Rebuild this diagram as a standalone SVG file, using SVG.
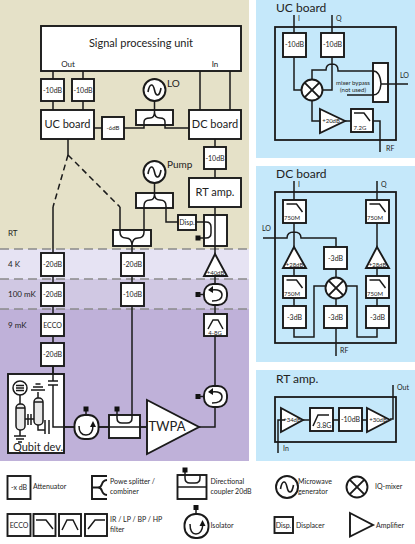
<svg xmlns="http://www.w3.org/2000/svg" width="415" height="544" viewBox="0 0 415 544">
<style>
text{font-family:Lato,"Open Sans",sans-serif;fill:#222}
.b{fill:#fff;stroke:#1a1a1a;stroke-width:1.9}
.l{fill:none;stroke:#1a1a1a;stroke-width:1.5}
.c{text-anchor:middle}
.s6{font-size:7px}.s5{font-size:6px}.s7{font-size:8px}.s9{font-size:10px}.s10{font-size:11px}
.d{fill:#111}
</style>
<defs>
<path id="sine" class="l" d="M-6.5 2C-5 -7 -1.500 -7 0 0S5 7 6.500 -2" style="stroke-width:1.6"/>
<g id="mix"><circle r="10.500" class="b"/><path class="l" style="stroke-width:1.9" d="M-7.400 -7.400L7.400 7.400M7.400 -7.400L-7.400 7.400"/></g>
<path id="lp" class="l" d="M-8 -5H2L8 3" style="stroke-width:1.5"/>
</defs>
<rect x="0" y="0" width="249" height="249" fill="#e5e1c8"/>
<rect x="0" y="249" width="249" height="30" fill="#e6e3f3"/>
<rect x="0" y="279" width="249" height="30" fill="#d0c8e3"/>
<rect x="0" y="309" width="249" height="152" fill="#bfb1d9"/>
<rect x="256" y="0" width="159" height="158" fill="#c5e8fa"/>
<rect x="256" y="166" width="159" height="196" fill="#c5e8fa"/>
<rect x="256" y="370" width="159" height="91" fill="#c5e8fa"/>
<path d="M0 249H249M0 279H249M0 309H249" stroke="#8a8a8a" stroke-width="1.300" stroke-dasharray="9 5" fill="none"/>
<g class="s7"><text x="8" y="236">RT</text><text x="8" y="267">4 K</text><text x="8" y="297">100 mK</text><text x="8" y="328">9 mK</text></g>

<g id="connectors">
<path class="l" d="M53 71V79M83 71V79M53 101V110M83 101V110M200 71V110M230 71V110M94 128H102M124 128H144V122Q144 118 150 118Q154.500 118 154.500 112V101M154.500 112Q154.500 118 160 118Q165 118 165 122V128H189M215 139V147M215 169V178"/>
<path class="l" d="M68 139V155"/>
<path class="l" stroke-dasharray="6 4" d="M68 155L53 207M68 155L120 207"/>
<path class="l" d="M53 207V374M132 246V415"/>
<path class="l" d="M120 207V232Q120 238 126 238Q132 238 132 246M132 246Q132 238 138 238Q144 238 144 232V207Q144 200 150 200Q154.500 200 154.500 194V183M154.500 194Q154.500 200 160 200Q166 200 166 206V222H178"/>
<path class="l" d="M215 207V254M215 276V395M215 405V427H199M53 427H147"/>
</g>

<g id="spu"><rect class="b" x="41" y="26" width="200" height="45"/><text class="s10 c" x="141" y="47">Signal processing unit</text><text class="s7 c" x="68" y="67">Out</text><text class="s7 c" x="215" y="67">In</text></g>
<g id="att1"><rect class="b" x="41" y="79" width="23" height="22"/><text class="s6 c" x="52.500" y="93">-10dB</text></g>
<g id="att2"><rect class="b" x="72" y="79" width="22" height="22"/><text class="s6 c" x="83" y="93">-10dB</text></g>
<g id="ucb"><rect class="b" x="41" y="110" width="53" height="29"/><text class="s10 c" x="67.500" y="128">UC board</text></g>
<g id="att6"><rect class="b" x="102" y="117" width="22" height="22"/><text class="s5 c" x="113" y="130">-6dB</text></g>
<g id="lo-coupler"><rect class="b" x="136" y="110" width="37" height="15"/><path class="l" d="M144 125V122Q144 118 150 118Q154.500 118 154.500 112V110M154.500 112Q154.500 118 160 118Q165 118 165 122V125"/></g>
<g id="lo"><circle class="b" cx="154.500" cy="90" r="11"/><use href="#sine" x="154.500" y="90"/><text class="s9" x="167" y="87">LO</text></g>
<g id="dcb"><rect class="b" x="189" y="110" width="52" height="29"/><text class="s10 c" x="215" y="128">DC board</text></g>
<g id="att10"><rect class="b" x="204" y="147" width="22" height="22"/><text class="s6 c" x="215" y="161">-10dB</text></g>
<g id="rta"><rect class="b" x="189" y="178" width="52" height="29"/><text class="s10 c" x="215" y="196">RT amp.</text></g>
<g id="pump"><circle class="b" cx="154.500" cy="172" r="11"/><use href="#sine" x="154.500" y="172"/><text class="s9" x="167" y="168">Pump</text></g>
<g id="pump-coupler"><rect class="b" x="136" y="193" width="37" height="15"/><path class="l" d="M144 208V206Q144 200 150 200Q154.500 200 154.500 194V193M154.500 194Q154.500 200 160 200Q166 200 166 206V208"/></g>
<g id="disp"><rect class="b" x="178" y="215" width="18" height="15"/><text class="s6 c" x="187" y="225">Disp.</text></g>
<g id="dircoup2"><rect class="b" x="204" y="215" width="23" height="31"/><path class="l" d="M215 215V246M196 222H206Q211 222 211 227V233Q211 238 206 238H198"/><rect class="d" x="195.500" y="235.500" width="5" height="5"/></g>
<g id="combiner"><rect class="b" x="113" y="230" width="38" height="16"/><path class="l" d="M120 230V232Q120 238 126 238Q132 238 132 246M132 246Q132 238 138 238Q144 238 144 232V230"/></g>
<g id="l20a"><rect class="b" x="41" y="253" width="23" height="23"/><text class="s6 c" x="52.500" y="267">-20dB</text></g>
<g id="l20b"><rect class="b" x="41" y="283" width="23" height="23"/><text class="s6 c" x="52.500" y="297">-20dB</text></g>
<g id="ecco"><rect class="b" x="41" y="314" width="23" height="22"/><text class="s6 c" x="52.500" y="328">ECCO</text></g>
<g id="l20c"><rect class="b" x="41" y="343" width="23" height="23"/><text class="s6 c" x="52.500" y="357">-20dB</text></g>
<g id="m20"><rect class="b" x="121" y="253" width="23" height="23"/><text class="s6 c" x="132.500" y="267">-20dB</text></g>
<g id="m10"><rect class="b" x="121" y="283" width="23" height="23"/><text class="s6 c" x="132.500" y="297">-10dB</text></g>
<g id="amp40"><path class="b" d="M215 254L227 276H204Z"/><text class="s5 c" x="215.500" y="275">+40dB</text></g>
<g id="iso-a"><rect class="b" x="204" y="284" width="23" height="21" rx="9"/><path class="l" d="M212 290Q222 289 222 295T212 301"/><path class="d" d="M208 290L213 286V293Z"/><rect class="d" x="195.500" y="292" width="5" height="5"/><path class="l" d="M198 294.500H204"/></g>
<g id="bp"><rect class="b" x="204" y="314" width="23" height="22"/><path class="l" d="M208 329L213 320H218L223 329"/><text class="s5 c" x="215" y="335">4-8G</text></g>
<g id="iso-b"><rect class="b" x="204" y="386" width="23" height="21" rx="9"/><path class="l" d="M212 392Q222 391 222 397T212 403"/><path class="d" d="M208 392L213 388V395Z"/><rect class="d" x="195.500" y="394" width="5" height="5"/><path class="l" d="M198 396.500H204"/></g>

<g id="qubit"><rect class="b" x="8" y="374" width="56" height="79"/>
<path class="l" d="M48 381H58M48 385H58M53 381V366M53 385V427H147M45 420V434M49 420V434M38 425V430H45M20 395V404M20 430V436M38 392V398M25 419H34M28 414V425M31 414V425"/>
<circle class="b" cx="20" cy="388" r="7" style="stroke-width:1.500"/><path class="l" d="M16 385.500H24M16 388H24M16 390.500H24"/>
<path class="l" d="M33 387H43M35.500 384H40.500M31 390H45M14 436H26M16 439H24M18 442H22"/>
<rect x="34" y="398" width="9" height="27" rx="4" fill="#e8e8e8" stroke="#1a1a1a" stroke-width="1.500"/>
<rect x="16" y="404" width="9" height="26" rx="4" fill="#e8e8e8" stroke="#1a1a1a" stroke-width="1.500"/>
<path class="l" d="M34 402H43M16 408H25"/>
<text class="s10" x="13" y="451">Qubit dev.</text></g>
<g id="iso-c"><rect class="b" x="74.500" y="415" width="24" height="24" rx="10"/><path class="l" d="M79 426Q79 435 86 435T93 425"/><path class="d" d="M90 427L93 421L96 427Z"/><path class="l" d="M86 409V415"/><rect class="d" x="83.500" y="406.500" width="5" height="5"/></g>
<g id="coupler"><rect class="b" x="109" y="415" width="31" height="23"/><path class="l" d="M109 427H140M117 410V418Q117 423 122 423H127Q132 423 132 418V415"/><rect class="d" x="114.500" y="406.500" width="5" height="5"/></g>
<g id="twpa"><path class="b" d="M147 400L199 427L147 454Z"/><text class="c" style="font-size:13px" x="167" y="431">TWPA</text></g>

<g id="uc-panel"><text style="font-size:12px" x="276" y="12">UC board</text><rect class="l" style="stroke-width:1.800" x="275" y="27" width="121" height="113"/>
<path class="l" d="M294 15V33M294 57V90H302M332 15V33M332 57V90H322M312 80V70H326Q326 64 332 64T338 70V71H373M347 95H373Q380 95 381 84H408M381 84Q380 71 373 71M312 100V121H320M345 121H351M373 121H380V152"/>
<rect class="b" x="283" y="33" width="23" height="24"/><text class="s6 c" x="294.500" y="47">-10dB</text>
<rect class="b" x="321" y="33" width="23" height="24"/><text class="s6 c" x="332.500" y="47">-10dB</text>
<use href="#mix" x="312" y="90"/>
<rect class="b" x="373" y="63" width="15" height="39"/><path class="l" d="M373 71Q380 71 381 84Q380 95 373 95M381 84H388"/>
<path class="b" d="M320 109L345 121L320 133Z"/><text class="s5 c" x="331" y="123">+20dB</text>
<rect class="b" x="351" y="109" width="22" height="23"/><use href="#lp" x="362" y="118"/><text class="s5 c" x="360" y="130">7.2G</text>
<text class="s5 c" x="353" y="85">mixer bypass</text><text class="s5 c" x="353" y="92">(not used)</text>
<text class="s6" x="298" y="21">I</text><text class="s6" x="336" y="21">Q</text><text class="s6" x="400" y="78">LO</text><text class="s6" x="386" y="151">RF</text></g>

<g id="dc-panel"><text style="font-size:12px" x="276" y="178">DC board</text><rect class="l" style="stroke-width:1.800" x="275" y="192" width="121" height="151"/>
<path class="l" d="M294 181V200M294 223V247M377 181V200M377 223V247M294 268V276M377 268V276M294 298V306M377 298V306M263 238H287Q287 232 294 232T301 238H336V247M336 268V277M336 299V306M336 328V356M294 328V337H314V286H325M377 328V337H357V286H347"/>
<rect class="b" x="283" y="200" width="23" height="23"/><use href="#lp" x="294.500" y="209"/><text class="s5 c" x="292" y="220">750M</text>
<rect class="b" x="366" y="200" width="23" height="23"/><use href="#lp" x="377.500" y="209"/><text class="s5 c" x="375" y="220">750M</text>
<path class="b" d="M294 247L306 268H283Z"/><text class="s5 c" x="294.500" y="267">+28dB</text>
<path class="b" d="M377 247L389 268H366Z"/><text class="s5 c" x="377.500" y="267">+28dB</text>
<rect class="b" x="283" y="276" width="23" height="22"/><use href="#lp" x="294.500" y="285"/><text class="s5 c" x="292" y="296">750M</text>
<rect class="b" x="366" y="276" width="23" height="22"/><use href="#lp" x="377.500" y="285"/><text class="s5 c" x="375" y="296">750M</text>
<rect class="b" x="283" y="306" width="23" height="22"/><text class="s6 c" x="294.500" y="320">-3dB</text>
<rect class="b" x="366" y="306" width="23" height="22"/><text class="s6 c" x="377.500" y="320">-3dB</text>
<rect class="b" x="324" y="247" width="23" height="22"/><text class="s6 c" x="335.500" y="261">-3dB</text>
<rect class="b" x="324" y="306" width="23" height="22"/><text class="s6 c" x="335.500" y="320">-3dB</text>
<use href="#mix" x="336" y="288"/>
<text class="s6" x="298" y="187">I</text><text class="s6" x="381" y="187">Q</text><text class="s6" x="262" y="231">LO</text><text class="s6" x="340" y="353">RF</text></g>

<g id="rt-panel"><text style="font-size:12px" x="276" y="383">RT amp.</text><rect class="l" style="stroke-width:1.800" x="275" y="397" width="121" height="45"/>
<path class="l" d="M303 420H310M333 420H339M362 420H367"/>
<path class="b" d="M281 408L303 420L281 432Z"/><text class="s5 c" x="292" y="422">+34dB</text>
<rect class="b" x="310" y="408" width="23" height="23"/><path class="l" d="M313 426L318 415H329"/><text class="s6 c" x="324" y="428">3.8G</text>
<rect class="b" x="339" y="408" width="23" height="23"/><text class="s6 c" x="350.500" y="422">-10dB</text>
<path class="b" d="M367 408L390 420L367 432Z"/><text class="s5 c" x="378" y="422">+30dB</text>
<path class="l" d="M278 453V420H285M390 419H393V385"/>
<text class="s6" x="397" y="390">Out</text><text class="s6" x="283" y="451">In</text></g>

<g id="legend">
<g id="lg-att"><rect class="b" x="7.500" y="476" width="23" height="23"/><text class="s6 c" x="19" y="490">-x dB</text><text class="s6" x="33" y="489">Attenuator</text></g>
<g id="lg-split"><path class="l" style="stroke-width:1.900" d="M107 476H92V499H107M92 487.500H98Q101 487.500 102 484T107 480M98 487.500Q101 487.500 102 491T107 495"/><text class="s6" x="110" y="484">Powe splitter /</text><text class="s6" x="110" y="494">combiner</text></g>
<g id="lg-dir"><rect class="b" x="177.500" y="475" width="29" height="24"/><path class="l" d="M177.500 487H206.500M185 470V478Q185 483 190 483H195Q200 483 200 478V475"/><rect class="d" x="182.500" y="467.500" width="5" height="5"/><text class="s6" x="210.500" y="484">Directional</text><text class="s6" x="210.500" y="494">coupler 20dB</text></g>
<g id="lg-gen"><circle class="b" cx="287" cy="487" r="11"/><use href="#sine" x="287" y="487"/><text class="s6" x="298" y="484">Microwave</text><text class="s6" x="298" y="494">generator</text></g>
<g id="lg-mix"><use href="#mix" x="357" y="487"/><text class="s6" x="375" y="489">IQ-mixer</text></g>
<g id="lg-filt"><rect class="b" x="7.500" y="514" width="23" height="22"/><text class="s6 c" x="19" y="528">ECCO</text>
<rect class="b" x="33.500" y="514" width="22" height="22"/><path class="l" d="M36 520H46L53 529"/>
<rect class="b" x="59" y="514" width="22" height="22"/><path class="l" d="M62 530L67 520H73L78 530"/>
<rect class="b" x="85" y="514" width="22" height="22"/><path class="l" d="M88 529L95 520H105"/>
<text class="s6" x="110" y="522">IR / LP / BP / HP</text><text class="s6" x="110" y="532">filter</text></g>
<g id="lg-iso"><rect class="b" x="184.500" y="514" width="24" height="24" rx="11"/><path class="l" d="M190 524Q190 534 196 534T203 524"/><path class="d" d="M199.500 526L202.500 520L205.500 526Z"/><path class="l" d="M196 507V514"/><rect class="d" x="193.500" y="505" width="5" height="5"/><text class="s6" x="210.500" y="528">Isolator</text></g>
<g id="lg-disp"><rect class="b" x="274.500" y="517" width="18.500" height="16"/><text class="s6 c" x="283.500" y="528">Disp.</text><text class="s6" x="296" y="528">Displacer</text></g>
<g id="lg-amp"><path class="b" d="M350 513L373 525L350 536.500Z"/><text class="s6" x="376" y="528">Amplifier</text></g>
</g>
</svg>
